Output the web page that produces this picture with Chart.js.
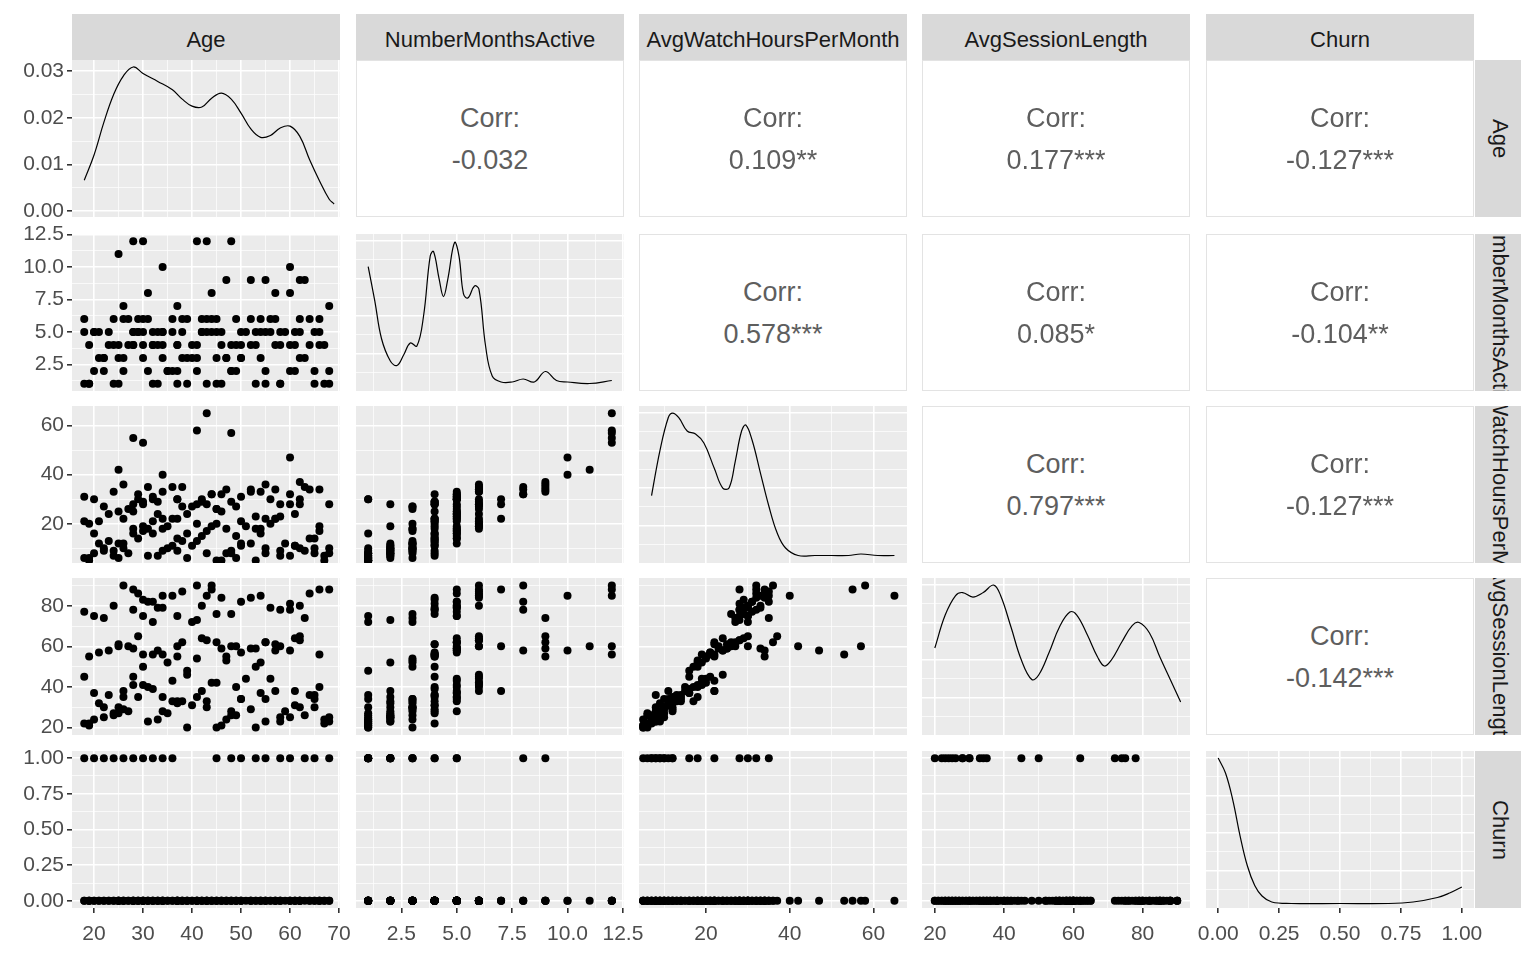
<!DOCTYPE html>
<html>
<head>
<meta charset="utf-8">
<script src="https://cdn.jsdelivr.net/npm/chart.js@4.4.1/dist/chart.umd.min.js"></script>
<style>
  body { margin: 0; background: #fff; font-family: "Liberation Sans", Arial, sans-serif; }
  #wrap { position: relative; width: 1536px; height: 960px; overflow: hidden; }
  canvas { position: absolute; }
  .strip { position: absolute; background: #D9D9D9; color: #1A1A1A; font-size: 22px; box-sizing: border-box;
           display: flex; align-items: center; justify-content: center; overflow: hidden; white-space: nowrap; }
  .hstrip { padding-top: 5px; }
  .vstrip { padding-left: 4px; }
  .vstrip span { writing-mode: vertical-rl; }
  .corr { position: absolute; background: #fff; border: 1px solid #E3E3E3; box-sizing: border-box;
          color: #5E5E5E; font-size: 27px; text-align: center; }
</style>
</head>
<body>
<div id="wrap"></div>
<script>
// variable names
const varNames = ['Age', 'NumberMonthsActive', 'AvgWatchHoursPerMonth', 'AvgSessionLength', 'Churn'];

// customer records (estimated from the scatter panels)
const ages = [
  19,22,25,27,29,31,33,35,38,40,  42,44,46,48,50,52,54,56,58,60,
  62,64,66,18,21,24,28,32,36,39,  41,43,45,47,49,51,53,55,57,59,
  61,63,65,67,20,23,26,30,34,37,  19,23,27,30,34,38,42,46,50,54,
  58,62,66,21,25,29,33,37,41,45,  49,53,57,61,35,39,43,47,28,32,
  20,24,28,32,36,40,44,48,52,56,  60,64,18,22,26,30,34,38,42,46,
  50,54,58,62,66,45,41,37,33,29,  28,30,41,43,48,60,34,25,55,47,
  26,37,44,57,62,68,68,65,31,52,  18,20,22,24,26,28,30,32,34,36,
  45,48,50,53,55,58,60,63,65,68,  19,25,31,37,43,49,55,61,67,39
];
const months = [
  1,2,3,4,5,6,1,2,3,4,  5,6,1,2,3,4,5,6,1,2,
  3,4,5,6,3,4,5,4,5,3,  4,5,6,3,4,5,1,2,6,5,
  4,3,5,4,5,4,3,6,5,4,  4,5,6,3,4,5,6,5,4,3,
  5,6,4,5,4,6,5,4,3,5,  6,5,4,5,2,1,6,3,5,4,
  5,6,4,5,6,3,5,4,6,5,  4,6,5,3,6,4,5,6,5,4,
  5,6,4,5,6,3,2,1,4,5,  12,12,12,12,12,10,10,11,9,9,
  7,7,8,8,9,7,2,1,8,9,  1,2,3,1,2,4,5,1,3,2,
  1,2,3,4,5,1,8,9,2,1,  1,1,2,2,1,2,1,2,1,6
];
const watch = [
  6,9,12,8,14,18,7,10,13,11,  15,19,5,8,11,12,16,20,9,7,
  10,14,17,21,12,9,18,16,22,6,  13,17,20,8,15,19,5,8,22,12,
  11,9,14,7,16,13,10,19,18,14,  20,24,26,17,22,27,29,25,21,18,
  23,28,19,21,25,30,24,22,20,26,  27,23,22,24,19,16,28,18,25,21,
  30,33,28,31,35,27,32,29,34,30,  28,34,31,27,36,29,33,35,30,32,
  31,33,28,30,34,26,28,30,29,32,  55,53,58,65,57,47,40,42,36,34,
  22,30,32,34,37,28,10,8,35,33,  6,8,10,7,12,16,28,30,9,11,
  5,9,12,18,22,7,32,35,10,8,  5,6,7,9,8,6,10,11,5,24
];
const session = [
  22,25,30,28,35,40,24,27,33,31,  38,42,21,26,34,29,37,44,23,25,
  30,36,40,45,32,27,41,39,43,20,  35,33,42,24,40,44,20,23,38,28,
  31,26,34,22,37,36,29,41,35,33,  55,58,60,50,56,62,64,59,57,52,
  60,63,56,57,61,65,58,55,54,62,  60,59,61,64,52,48,63,53,59,56,
  75,80,78,82,85,72,88,76,84,79,  81,86,77,74,90,83,79,87,80,84,
  82,85,78,80,88,76,73,75,79,86,  88,56,90,85,60,58,85,60,62,55,
  38,60,90,58,65,88,25,36,82,59,  22,24,30,26,35,45,75,72,28,33,
  20,28,34,50,62,25,78,74,30,23,  21,27,23,32,30,26,34,38,24,46
];
const churn = [
  0,0,0,0,0,0,0,0,0,0,  0,0,0,0,0,0,0,0,0,0,
  0,0,0,0,0,0,0,0,0,0,  0,0,0,0,0,0,0,0,0,0,
  0,0,0,0,0,0,0,0,0,0,  0,0,0,0,0,0,0,0,0,0,
  0,0,0,0,0,0,0,0,0,0,  0,0,0,0,0,0,0,0,0,0,
  0,0,0,0,0,0,0,0,0,0,  0,0,0,0,0,0,0,0,0,0,
  0,0,0,0,0,0,0,0,0,0,  0,0,0,0,0,0,0,0,0,0,
  0,0,0,0,0,0,0,0,0,0,  1,1,1,1,1,1,1,1,1,1,
  1,1,1,1,1,1,1,1,1,1,  0,0,0,0,0,0,0,0,0,0
];

// density curves
const ageDensX = [18,20,22,24,26,28,30,33,36,38,40,42,44,46,48,50,52,54,56,58,60,62,64,66,68,69];
const ageDensY = [0.0066,0.012,0.019,0.025,0.029,0.0309,0.0295,0.0278,0.026,0.024,0.0225,0.0223,0.0242,0.0253,0.024,0.021,0.0176,0.0158,0.0162,0.0178,0.0182,0.016,0.011,0.0065,0.0025,0.0015];
const monthsDensX = [1.0,1.3,1.6,2.0,2.3,2.6,2.9,3.2,3.5,3.8,3.95,4.2,4.4,4.6,4.9,5.1,5.3,5.5,5.8,6.0,6.3,6.6,7,7.5,8,8.5,9,9.5,10,11,12];
const monthsDensY = [0.83,0.6,0.35,0.2,0.17,0.24,0.32,0.3,0.5,0.9,0.93,0.75,0.63,0.75,0.99,0.9,0.65,0.62,0.7,0.68,0.3,0.1,0.06,0.06,0.08,0.06,0.13,0.07,0.06,0.05,0.07];
const watchDensX = [7,9,11,12,13.5,15.5,17.5,19.5,22,24,25.5,27,28.5,29.5,31,33,35,37,39,42,46,50,54,57,61,65];
const watchDensY = [0.45,0.75,0.97,1.0,0.97,0.88,0.86,0.8,0.63,0.5,0.5,0.68,0.88,0.92,0.82,0.6,0.38,0.2,0.1,0.05,0.05,0.05,0.05,0.06,0.05,0.05];
const sessionDensX = [20,23,26,28,31,34,37,39,42,45,48,50,53,56,59,61,64,67,69,71,74,77,79,82,85,88,91];
const sessionDensY = [0.58,0.8,0.93,0.95,0.92,0.95,1.0,0.93,0.72,0.5,0.37,0.4,0.55,0.72,0.82,0.8,0.67,0.52,0.46,0.5,0.62,0.73,0.75,0.68,0.52,0.37,0.22];
const churnDensX = [0,0.03,0.06,0.09,0.12,0.15,0.18,0.22,0.3,0.5,0.7,0.8,0.9,0.95,1.0];
const churnDensY = [1.0,0.9,0.72,0.48,0.28,0.15,0.08,0.04,0.03,0.03,0.03,0.04,0.07,0.1,0.14];

// correlation labels of the upper panels, row by row
const corrRow0 = ['-0.032', '0.109**', '0.177***', '-0.127***'];
const corrRow1 = ['0.578***', '0.085*', '-0.104**'];
const corrRow2 = ['0.797***', '-0.127***'];
const corrRow3 = ['-0.142***'];

// axis ranges and ticks
const axes = [
  { min: 15.5, max: 70.2, major: [20,30,40,50,60,70], minor: [25,35,45,55,65], fmt: v => String(v) },
  { min: 0.45, max: 12.55, major: [2.5,5,7.5,10,12.5], minor: [1.25,3.75,6.25,8.75,11.25], fmt: v => v.toFixed(1) },
  { min: 4, max: 68, major: [20,40,60], minor: [10,30,50], fmt: v => String(v) },
  { min: 16.3, max: 93.7, major: [20,40,60,80], minor: [30,50,70,90], fmt: v => String(v) },
  { min: -0.05, max: 1.05, major: [0,0.25,0.5,0.75,1], minor: [0.125,0.375,0.625,0.875], fmt: v => v.toFixed(2) }
];
const ageDensAxis = { min: -0.0013, max: 0.0324, major: [0,0.01,0.02,0.03], minor: [0.005,0.015,0.025], fmt: v => v.toFixed(2) };
const densAxis = { min: 0, max: 1.047, major: [0.25,0.5,0.75,1], minor: [0.125,0.375,0.625,0.875], fmt: () => '' };

const vars = [ages, months, watch, session, churn];
const densX = [ageDensX, monthsDensX, watchDensX, sessionDensX, churnDensX];
const densY = [ageDensY, monthsDensY, watchDensY, sessionDensY, churnDensY];
const corrRows = [corrRow0, corrRow1, corrRow2, corrRow3];

const colLeft = [72, 356, 639, 922, 1206];
const rowTop = [60, 234, 406, 578, 751];
const panelW = 268, panelH = 157;
const yAxisW = 72, xAxisH = 44;
const margin = 20; // spare room round each canvas so edge labels are not cut

const wrap = document.getElementById('wrap');

const bgPlugin = {
  id: 'panelBg',
  beforeDraw(chart) {
    const a = chart.chartArea, ctx = chart.ctx;
    ctx.save();
    ctx.fillStyle = '#EBEBEB';
    ctx.fillRect(a.left, a.top, a.right - a.left, a.bottom - a.top);
    ctx.restore();
  }
};

function isMajor(ax, v) {
  return ax.major.some(m => Math.abs(m - v) < 1e-9);
}

function axisCfg(ax, show, horizontal) {
  return {
    type: 'linear',
    min: ax.min,
    max: ax.max,
    afterBuildTicks: s => { s.ticks = ax.major.concat(ax.minor).map(v => ({ value: v })); },
    afterFit: s => {
      if (horizontal) s.height = show ? xAxisH : 0;
      else s.width = show ? yAxisW : 0;
      s.paddingLeft = s.paddingRight = s.paddingTop = s.paddingBottom = 0;
    },
    border: { display: false },
    grid: {
      color: '#FFFFFF',
      lineWidth: c => (c.tick && isMajor(ax, c.tick.value)) ? 1.6 : 0.7,
      drawTicks: show,
      tickLength: 5,
      tickColor: c => (c.tick && isMajor(ax, c.tick.value)) ? '#333333' : 'rgba(0,0,0,0)'
    },
    ticks: {
      display: show,
      autoSkip: false,
      maxRotation: 0,
      padding: horizontal ? 9 : 3,
      color: '#4D4D4D',
      font: { family: 'Liberation Sans', size: 21 },
      callback: v => isMajor(ax, v) ? ax.fmt(v) : ''
    }
  };
}

function makePanel(r, c) {
  const showY = c === 0, showX = r === 4;
  const canvas = document.createElement('canvas');
  const w = panelW + (showY ? yAxisW : 0) + 2 * margin;
  const h = panelH + (showX ? xAxisH : 0) + 2 * margin;
  canvas.width = w; canvas.height = h;
  canvas.style.left = (colLeft[c] - (showY ? yAxisW : 0) - margin) + 'px';
  canvas.style.top = (rowTop[r] - margin) + 'px';
  wrap.appendChild(canvas);

  let datasets, yAx;
  if (r === c) {
    yAx = r === 0 ? ageDensAxis : densAxis;
    datasets = [{
      data: densX[c].map((x, i) => ({ x: x, y: densY[c][i] })),
      showLine: true, pointRadius: 0, borderColor: '#000', borderWidth: 1.2, tension: 0.4
    }];
  } else {
    yAx = axes[r];
    datasets = [{
      data: vars[c].map((x, i) => ({ x: x, y: vars[r][i] })),
      pointRadius: 4, backgroundColor: '#000', borderWidth: 0
    }];
  }

  new Chart(canvas, {
    type: 'scatter',
    data: { datasets: datasets },
    options: {
      responsive: false,
      animation: false,
      layout: { padding: margin, autoPadding: false },
      plugins: { legend: { display: false }, tooltip: { enabled: false } },
      scales: {
        x: axisCfg(axes[c], showX, true),
        y: axisCfg(yAx, showY, false)
      }
    },
    plugins: [bgPlugin]
  });
}

function makeCorr(r, c) {
  const d = document.createElement('div');
  d.className = 'corr';
  d.style.left = colLeft[c] + 'px';
  d.style.top = rowTop[r] + 'px';
  d.style.width = panelW + 'px';
  d.style.height = panelH + 'px';
  d.innerHTML = '<div style="position:absolute;left:0;right:0;top:' + (panelH / 2 - 37) + 'px">Corr:</div>' +
                '<div style="position:absolute;left:0;right:0;top:' + (panelH / 2 + 5) + 'px">' + corrRows[r][c - r - 1] + '</div>';
  wrap.appendChild(d);
}

// top strips
varNames.forEach((name, c) => {
  const s = document.createElement('div');
  s.className = 'strip hstrip';
  s.style.left = colLeft[c] + 'px';
  s.style.top = '14px';
  s.style.width = panelW + 'px';
  s.style.height = '46px';
  s.textContent = name;
  wrap.appendChild(s);
});

// right strips
varNames.forEach((name, r) => {
  const s = document.createElement('div');
  s.className = 'strip vstrip';
  s.style.left = '1475px';
  s.style.top = rowTop[r] + 'px';
  s.style.width = '46px';
  s.style.height = panelH + 'px';
  s.innerHTML = '<span>' + name + '</span>';
  wrap.appendChild(s);
});

for (let r = 0; r < 5; r++) {
  for (let c = 0; c < 5; c++) {
    if (r >= c) makePanel(r, c);
    else makeCorr(r, c);
  }
}
</script>
</body>
</html>
